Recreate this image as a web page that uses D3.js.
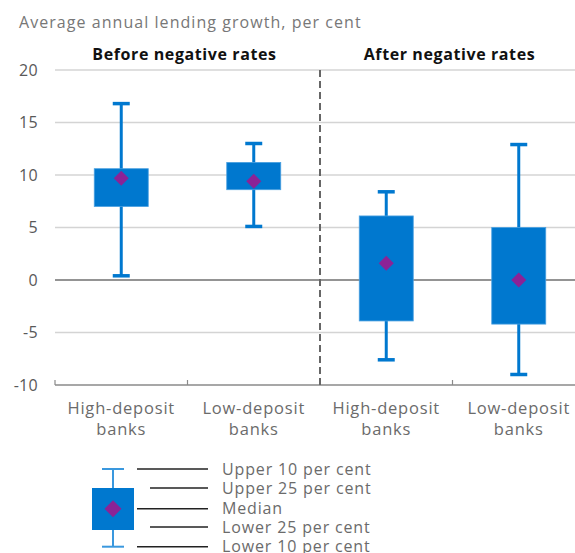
<!DOCTYPE html>
<html><head><meta charset="utf-8">
<script src="https://cdn.jsdelivr.net/npm/d3@7"></script>
<style>body{margin:0;background:#fff}svg{display:block}</style>
</head><body>
<script>
const categories = [["High-deposit","banks"],["Low-deposit","banks"],["High-deposit","banks"],["Low-deposit","banks"]];
const panels = ["Before negative rates","After negative rates"];
const lower10 = [0.4, 5.1, -7.6, -9.0];
const lower25 = [7.0, 8.6, -3.9, -4.2];
const median  = [9.7, 9.4, 1.6, 0.0];
const upper25 = [10.6, 11.2, 6.1, 5.0];
const upper10 = [16.8, 13.0, 8.4, 12.9];
const yTicks = [-10, -5, 0, 5, 10, 15, 20];
const legendLabels = ["Upper 10 per cent","Upper 25 per cent","Median","Lower 25 per cent","Lower 10 per cent"];

const W = 575, H = 553;
const font = "'Open Sans', sans-serif";
const blue = "#0078cf", purple = "#8b2396";
const svg = d3.select("body").append("svg").attr("width", W).attr("height", H)
  .style("font-family", font);

const y = d3.scaleLinear().domain([-10, 20]).range([385, 70]);
const x = d3.scaleBand().domain(d3.range(categories.length)).range([55, 585]).padding(0);
const bw = 54, capW = 17;

svg.append("text").attr("x", 19).attr("y", 28).attr("fill", "#777").attr("font-size", 16)
  .attr("letter-spacing", 1.05).text("Average annual lending growth, per cent");

// grid
const yAxis = svg.append("g");
yTicks.forEach(t => {
  if (t !== -10) {
    yAxis.append("line").attr("x1", 55).attr("x2", 585).attr("y1", y(t)).attr("y2", y(t))
      .attr("stroke", t === 0 ? "#707070" : "#d4d4d4").attr("stroke-width", t === 0 ? 1.3 : 1.5);
  }
  yAxis.append("text").attr("x", 38).attr("y", y(t)).attr("dy", "0.35em").attr("text-anchor", "end")
    .attr("fill", "#595959").attr("font-size", 16).attr("letter-spacing", 0.3).text(t);
});

// x axis
svg.append("line").attr("x1", 55).attr("x2", 585).attr("y1", y(-10)).attr("y2", y(-10))
  .attr("stroke", "#8a8a8a").attr("stroke-width", 1.5);
[0, 1, 2, 3, 4].forEach(i => {
  const xx = i < 4 ? x(i) : x(3) + x.bandwidth();
  svg.append("line").attr("x1", xx).attr("x2", xx).attr("y1", y(-10)).attr("y2", y(-10) - 5)
    .attr("stroke", "#8a8a8a").attr("stroke-width", 1.2);
});
categories.forEach((c, i) => {
  const cx = x(i) + x.bandwidth() / 2;
  c.forEach((line, j) => {
    svg.append("text").attr("x", cx).attr("y", 414 + j * 21).attr("text-anchor", "middle")
      .attr("fill", "#6b6b6b").attr("font-size", 16.5).attr("letter-spacing", 0.8).text(line);
  });
});

// divider
const mid = x(2);
svg.append("line").attr("x1", mid).attr("x2", mid).attr("y1", y(20)).attr("y2", y(-10))
  .attr("stroke", "#666").attr("stroke-width", 2).attr("stroke-dasharray", "7,4");

// panel titles
panels.forEach((p, k) => {
  const cx = x(k * 2) + x.bandwidth();
  svg.append("text").attr("x", cx - 3).attr("y", 60).attr("text-anchor", "middle")
    .attr("font-weight", "bold").attr("fill", "#111").attr("font-size", 16).attr("letter-spacing", 0.6).text(p);
});

// boxes
categories.forEach((c, i) => {
  const cx = x(i) + x.bandwidth() / 2;
  const g = svg.append("g");
  g.append("line").attr("x1", cx).attr("x2", cx).attr("y1", y(upper10[i])).attr("y2", y(lower10[i]))
    .attr("stroke", blue).attr("stroke-width", 3);
  [upper10[i], lower10[i]].forEach(v => {
    g.append("line").attr("x1", cx - capW / 2).attr("x2", cx + capW / 2).attr("y1", y(v)).attr("y2", y(v))
      .attr("stroke", blue).attr("stroke-width", 3.5);
  });
  g.append("rect").attr("x", cx - bw / 2).attr("width", bw).attr("y", y(upper25[i]))
    .attr("height", y(lower25[i]) - y(upper25[i])).attr("fill", blue)
    .attr("stroke", "#4aa0e0").attr("stroke-width", 0.8);
  const d = 7.5, my = y(median[i]);
  g.append("path").attr("d", `M${cx},${my - d}L${cx + d},${my}L${cx},${my + d}L${cx - d},${my}Z`).attr("fill", purple);
});

// legend
const lg = svg.append("g");
const lcx = 113;
const ly = [469, 488, 508.7, 527, 546.7];
lg.append("line").attr("x1", lcx).attr("x2", lcx).attr("y1", ly[0]).attr("y2", ly[4]).attr("stroke", "#3a98de").attr("stroke-width", 2);
[ly[0], ly[4]].forEach(v => lg.append("line").attr("x1", lcx - 11).attr("x2", lcx + 11).attr("y1", v).attr("y2", v)
  .attr("stroke", "#3a98de").attr("stroke-width", 2));
lg.append("rect").attr("x", 92).attr("y", 488).attr("width", 42).attr("height", 42).attr("fill", blue);
const ld = 8.5;
lg.append("path").attr("d", `M${lcx},${ly[2] - ld}L${lcx + ld},${ly[2]}L${lcx},${ly[2] + ld}L${lcx - ld},${ly[2]}Z`).attr("fill", purple);
legendLabels.forEach((t, k) => {
  const x1 = (k === 1 || k === 3) ? 150 : 137;
  lg.append("line").attr("x1", x1).attr("x2", 208).attr("y1", ly[k]).attr("y2", ly[k]).attr("stroke", "#222").attr("stroke-width", 1.5);
  lg.append("text").attr("x", 222).attr("y", ly[k]).attr("dy", "0.35em").attr("fill", "#6b6b6b").attr("font-size", 16)
    .attr("letter-spacing", 0.85).text(t);
});
</script>
</body></html>
